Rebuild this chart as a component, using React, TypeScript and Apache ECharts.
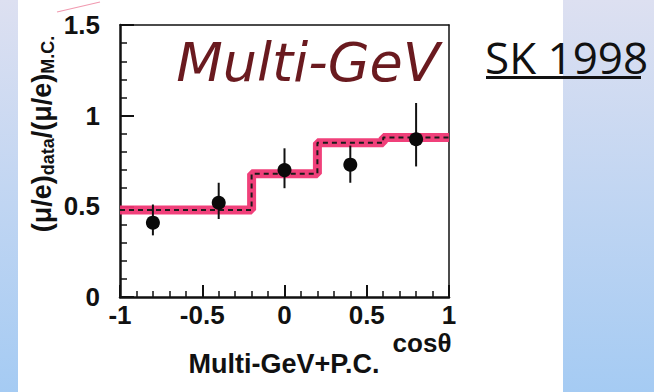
import React, { useEffect, useRef } from "react";
import * as echarts from "echarts";

// Data points (μ/e)data/(μ/e)MC vs cosθ
const cosTheta = [-0.8, -0.4, 0, 0.4, 0.8];
const ratio = [0.41, 0.52, 0.7, 0.73, 0.87];
const errLow = [0.34, 0.43, 0.6, 0.63, 0.72];
const errHigh = [0.51, 0.63, 0.82, 0.835, 1.07];

// MC expectation histogram (bin left edges + values)
const binEdges = [-1, -0.6, -0.2, 0.2, 0.6, 1];
const mcValues = [0.48, 0.48, 0.68, 0.85, 0.88];

const xTicks = [-1, -0.5, 0, 0.5, 1];
const yTicks = [0, 0.5, 1, 1.5];

export default function App() {
  const ref = useRef<HTMLDivElement>(null);

  useEffect(() => {
    if (!ref.current) return;
    const chart = echarts.init(ref.current, undefined, { renderer: "svg" });

    const stepData = binEdges.map((e, i) => [e, mcValues[Math.min(i, mcValues.length - 1)]]);
    const labelFont = {
      fontFamily: "Liberation Sans, Arial, sans-serif",
      fontWeight: "bold" as const,
      fontSize: 26,
      color: "#111",
    };

    chart.setOption({
      animation: false,
      grid: { left: 120, top: 25, width: 329, height: 272, containLabel: false },
      xAxis: [
        {
          type: "value",
          min: -1,
          max: 1,
          interval: 0.5,
          axisLine: { show: true, onZero: false, lineStyle: { color: "#111", width: 2.5 } },
          axisTick: { show: true, inside: true, length: 12, lineStyle: { color: "#111", width: 2 } },
          minorTick: { show: true, splitNumber: 5, length: 6, lineStyle: { color: "#111", width: 1.5 } },
          splitLine: { show: false },
          minorSplitLine: { show: false },
          axisLabel: {
            ...labelFont,
            margin: 5,
            lineHeight: 26,
            formatter: (v: number) => (xTicks.includes(v) ? String(v) : ""),
          },
        },
        {
          type: "value",
          position: "top",
          min: -1,
          max: 1,
          axisLine: { show: true, onZero: false, lineStyle: { color: "#111", width: 1.5 } },
          axisTick: { show: false },
          axisLabel: { show: false },
          splitLine: { show: false },
        },
      ],
      yAxis: [
        {
          type: "value",
          min: 0,
          max: 1.5,
          interval: 0.5,
          axisLine: { show: true, onZero: false, lineStyle: { color: "#111", width: 2.5 } },
          axisTick: { show: true, inside: true, length: 14, lineStyle: { color: "#111", width: 2 } },
          minorTick: { show: true, splitNumber: 5, length: 7, lineStyle: { color: "#111", width: 1.5 } },
          splitLine: { show: false },
          minorSplitLine: { show: false },
          axisLabel: {
            ...labelFont,
            margin: 20,
            formatter: (v: number) => (yTicks.includes(v) ? String(v) : ""),
          },
        },
        {
          type: "value",
          position: "right",
          min: 0,
          max: 1.5,
          axisLine: { show: true, onZero: false, lineStyle: { color: "#111", width: 1.5 } },
          axisTick: { show: false },
          axisLabel: { show: false },
          splitLine: { show: false },
        },
      ],
      series: [
        {
          type: "line",
          step: "end",
          data: stepData,
          showSymbol: false,
          symbol: "none",
          lineStyle: { color: "#ef3673", width: 9, opacity: 0.95 },
          z: 2,
        },
        {
          type: "line",
          step: "end",
          data: stepData,
          showSymbol: false,
          symbol: "none",
          lineStyle: { color: "#1a1a1a", width: 2, type: [5, 4] },
          z: 3,
        },
        {
          type: "custom",
          data: cosTheta.map((x, i) => [x, errLow[i], errHigh[i]]),
          encode: { x: 0, y: [1, 2] },
          renderItem: (_p: any, api: any) => {
            const a = api.coord([api.value(0), api.value(1)]);
            const b = api.coord([api.value(0), api.value(2)]);
            return {
              type: "line",
              shape: { x1: a[0], y1: a[1], x2: b[0], y2: b[1] },
              style: { stroke: "#111", lineWidth: 2 },
            };
          },
          z: 4,
        },
        {
          type: "scatter",
          data: cosTheta.map((x, i) => [x, ratio[i]]),
          symbol: "circle",
          symbolSize: 14,
          itemStyle: { color: "#0a0a0a", opacity: 1 },
          z: 5,
        },
      ],
      graphic: [
        {
          type: "text",
          x: 308,
          y: 62,
          style: {
            text: "Multi-GeV",
            fontFamily: "DejaVu Sans",
            fontStyle: "italic",
            fontSize: 54,
            fill: "#6a1a1f",
            align: "center",
            verticalAlign: "middle",
          },
        },
        {
          type: "line",
          shape: { x1: 57, y1: 12, x2: 100, y2: 2 },
          style: { stroke: "#f19ab0", lineWidth: 1.2 },
        },
        {
          type: "text",
          x: 42,
          y: 134,
          rotation: Math.PI / 2,
          style: {
            text: "{m|(μ/e)}{s|data}{m|/(μ/e)}{s|M.C.}",
            align: "center",
            verticalAlign: "middle",
            rich: {
              m: {
                fontFamily: "Liberation Sans, Arial, sans-serif",
                fontWeight: "bold",
                fontSize: 27,
                lineHeight: 30,
                verticalAlign: "middle",
                fill: "#111",
              },
              s: {
                fontFamily: "Liberation Sans, Arial, sans-serif",
                fontWeight: "bold",
                fontSize: 18,
                lineHeight: 18,
                verticalAlign: "bottom",
                fill: "#111",
              },
            },
          },
        },
        {
          type: "text",
          x: 422,
          y: 343,
          style: {
            text: "cosθ",
            fontFamily: "Liberation Sans, Arial, sans-serif",
            fontWeight: "bold",
            fontSize: 26,
            lineHeight: 20,
            fill: "#111",
            align: "center",
            verticalAlign: "middle",
          },
        },
        {
          type: "text",
          x: 284,
          y: 364,
          style: {
            text: "Multi-GeV+P.C.",
            fontFamily: "Liberation Sans, Arial, sans-serif",
            fontWeight: "bold",
            fontSize: 27,
            fill: "#111",
            align: "center",
            verticalAlign: "middle",
          },
        },
        {
          type: "text",
          x: 485,
          y: 57,
          style: {
            text: "SK 1998",
            fontFamily: "Open Sans, sans-serif",
            fontSize: 44,
            fill: "#111",
            align: "left",
            verticalAlign: "middle",
          },
        },
        {
          type: "line",
          shape: { x1: 486, y1: 77.5, x2: 641, y2: 77.5 },
          style: { stroke: "#111", lineWidth: 3 },
        },
      ],
    });

    return () => chart.dispose();
  }, []);

  return (
    <div
      style={{
        position: "fixed",
        left: 0,
        top: 0,
        width: 654,
        height: 392,
        background: "linear-gradient(to bottom, #dde0f1 0%, #a5cbf3 100%)",
      }}
    >
      <div
        style={{
          position: "absolute",
          left: 18,
          top: 0,
          width: 545,
          height: 392,
          background: "#ffffff",
        }}
      />
      <div ref={ref} style={{ position: "absolute", left: 0, top: 0, width: 654, height: 392 }} />
    </div>
  );
}
